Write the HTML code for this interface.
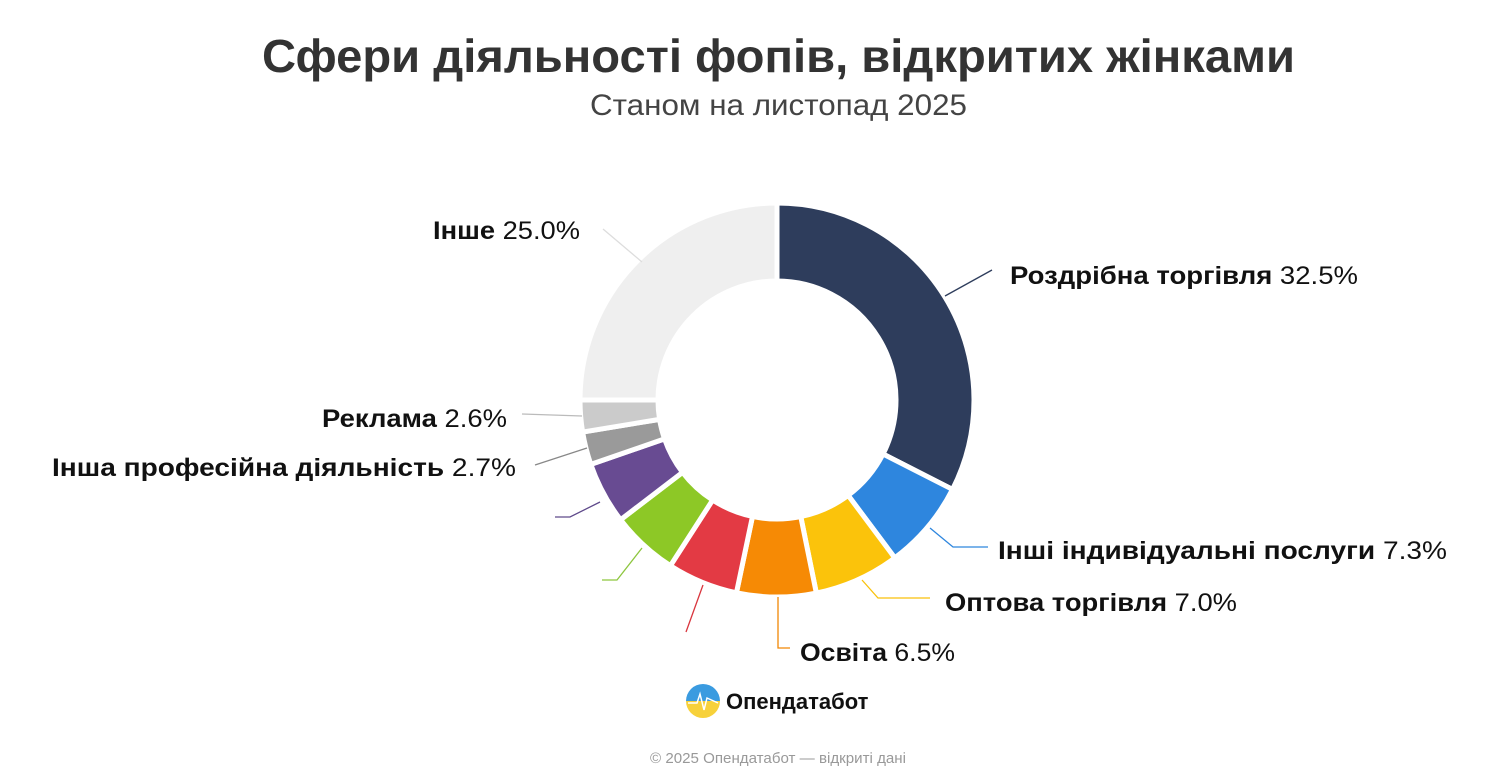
<!DOCTYPE html>
<html><head><meta charset="utf-8"><style>
html,body{margin:0;padding:0;background:#fff;}
svg text{font-family:"Liberation Sans",sans-serif;}
</style></head><body>
<svg width="1500" height="775" viewBox="0 0 1500 775" xmlns="http://www.w3.org/2000/svg">
<text x="262" y="72" font-size="46" font-weight="bold" fill="#333" textLength="1033" lengthAdjust="spacingAndGlyphs">Сфери діяльності фопів, відкритих жінками</text>
<text x="590" y="115" font-size="30" fill="#444" textLength="377" lengthAdjust="spacingAndGlyphs">Станом на листопад 2025</text>
<g id="d" stroke="#fff" stroke-width="5" stroke-linejoin="round"></g>
<g fill="none" stroke-width="1.3">
<polyline points="945,296 992,270" stroke="#2e3d5c"/>
<polyline points="642,262 603,229" stroke="#ddd"/>
<polyline points="582,416 522,414" stroke="#bbb"/>
<polyline points="587,448 535,465" stroke="#888"/>
<polyline points="600,502 570,517 555,517" stroke="#5f4a8b"/>
<polyline points="642,548 617,580 602,580" stroke="#8dc63f"/>
<polyline points="703,585 686,632" stroke="#d9363e"/>
<polyline points="778,597 778,648 790,648" stroke="#f28705"/>
<polyline points="862,580 878,598 930,598" stroke="#f9c10b"/>
<polyline points="930,528 953,547 988,547" stroke="#2e86de"/>
</g>
<g font-size="25" font-weight="bold" fill="#111" lengthAdjust="spacingAndGlyphs">
<text x="1010" y="284" textLength="348" lengthAdjust="spacingAndGlyphs">Роздрібна торгівля <tspan font-weight="normal">32.5%</tspan></text>
<text x="433" y="239" textLength="147" lengthAdjust="spacingAndGlyphs">Інше <tspan font-weight="normal">25.0%</tspan></text>
<text x="322" y="427" textLength="185" lengthAdjust="spacingAndGlyphs">Реклама <tspan font-weight="normal">2.6%</tspan></text>
<text x="52" y="476" textLength="464" lengthAdjust="spacingAndGlyphs">Інша професійна діяльність <tspan font-weight="normal">2.7%</tspan></text>
<text x="998" y="559" textLength="449" lengthAdjust="spacingAndGlyphs">Інші індивідуальні послуги <tspan font-weight="normal">7.3%</tspan></text>
<text x="945" y="611" textLength="292" lengthAdjust="spacingAndGlyphs">Оптова торгівля <tspan font-weight="normal">7.0%</tspan></text>
<text x="800" y="661" textLength="155" lengthAdjust="spacingAndGlyphs">Освіта <tspan font-weight="normal">6.5%</tspan></text>
</g>
<defs><linearGradient id="lg" x1="0" y1="0" x2="0" y2="1"><stop offset="0.5" stop-color="#3a9be0"/><stop offset="0.5" stop-color="#f7d13a"/></linearGradient></defs>
<circle cx="703" cy="701" r="17" fill="url(#lg)"/>
<polyline points="688,703 697,703 700,694 704,710 707,698 718,703" fill="none" stroke="#fff" stroke-width="1.5"/>
<text x="726" y="709" font-size="22" font-weight="bold" fill="#111">Опендатабот</text>
<text x="650" y="763" font-size="15" fill="#999" textLength="256" lengthAdjust="spacingAndGlyphs">© 2025 Опендатабот — відкриті дані</text>
</svg>
<script>
var cx=777,cy=400,R=197,r=119;
var data=[[32.5,"#2e3d5c"],[7.3,"#2e86de"],[7.0,"#fbc30b"],[6.5,"#f68a05"],[5.8,"#e33a44"],[5.5,"#8dc826"],[5.1,"#684b92"],[2.7,"#9a9a9a"],[2.6,"#cbcbcb"],[25.0,"#efefef"]];
var g=document.getElementById("d"),a=0,ns="http://www.w3.org/2000/svg";
function p(rad,ang){var t=ang*Math.PI/180;return (cx+rad*Math.sin(t)).toFixed(2)+","+(cy-rad*Math.cos(t)).toFixed(2);}
data.forEach(function(d){var a0=a,a1=a+d[0]*3.6;a=a1;var l=(a1-a0)>180?1:0;
var e=document.createElementNS(ns,"path");
e.setAttribute("d","M"+p(R,a0)+" A"+R+","+R+" 0 "+l+" 1 "+p(R,a1)+" L"+p(r,a1)+" A"+r+","+r+" 0 "+l+" 0 "+p(r,a0)+"Z");
e.setAttribute("fill",d[1]);g.appendChild(e);});
</script>
</body></html>
